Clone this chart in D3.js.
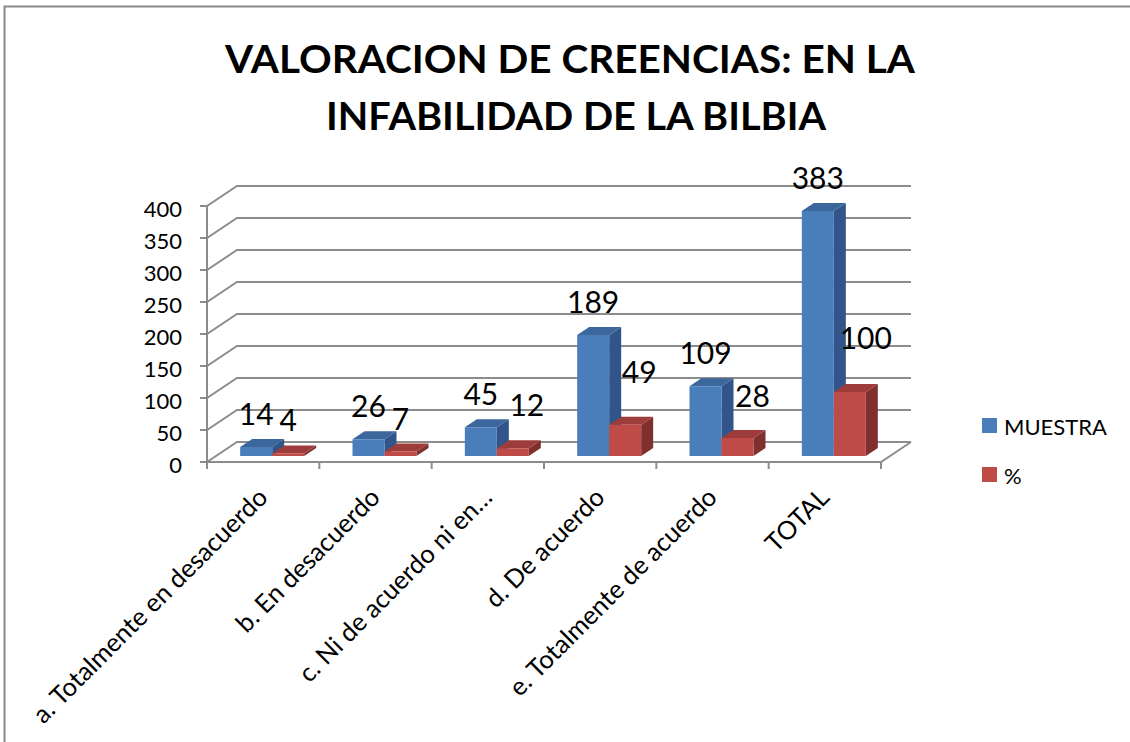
<!DOCTYPE html>
<html>
<head>
<meta charset="utf-8">
<script src="https://cdn.jsdelivr.net/npm/d3@7"></script>
<style>
  html, body { margin: 0; padding: 0; background: #fff; }
  svg { display: block; }
  text { font-family: Lato, "Open Sans", sans-serif; fill: #000; }
</style>
</head>
<body>
<svg id="chart" width="1130" height="742"></svg>
<script>
// ---- data ----
const categories = [
  "a. Totalmente en desacuerdo",
  "b. En desacuerdo",
  "c. Ni de acuerdo ni en…",
  "d. De acuerdo",
  "e. Totalmente de acuerdo",
  "TOTAL"
];
const seriesNames = ["MUESTRA", "%"];
const muestra = [14, 26, 45, 189, 109, 383];
const pct = [4, 7, 12, 49, 28, 100];
const yTicks = [0, 50, 100, 150, 200, 250, 300, 350, 400];
const titleLines = ["VALORACION DE CREENCIAS: EN LA", "INFABILIDAD DE LA BILBIA"];

// label nudges (layout only) for the "%" labels, as Excel moved them
const pctLabelNudge = [[0, 0], [0, 0], [14, -10], [14, -20], [15, -9], [16, -21]];

// ---- layout ----
const svg = d3.select("#chart");
const colors = {
  MUESTRA: { front: "#4a7ebb", top: "#3c679c", side: "#31558a" },
  "%": { front: "#be4b48", top: "#9d3c3a", side: "#7f302e" }
};
const DX = 30, DY = -20; // full depth offset
const x0 = d3.scaleBand().domain(categories).range([207, 881]).paddingInner(0).paddingOuter(0);
const x1 = d3.scaleBand().domain(seriesNames).range([0, x0.bandwidth()]).paddingInner(0).paddingOuter(0.755);
const y = d3.scaleLinear().domain([0, 400]).range([462, 206]);

// project a front-plane point at given depth
function P(xf, v, d) { return [xf + DX * d, y(v) + DY * d]; }

// border
svg.append("path").attr("d", "M4.5,742 V6.5 H1130").attr("fill", "none")
  .attr("stroke", "#888").attr("stroke-width", 2);

// title
titleLines.forEach((t, i) => {
  svg.append("text").attr("x", [570, 576][i]).attr("y", [73, 130][i])
    .attr("text-anchor", "middle").attr("font-weight", "bold")
    .attr("font-size", 39).attr("textLength", [690, 500][i])
    .attr("lengthAdjust", "spacingAndGlyphs").text(t);
});

const grid = svg.append("g").attr("stroke", "#8c8c8c").attr("stroke-width", 2).attr("fill", "none");
// back wall gridlines and side wall diagonals
yTicks.forEach(v => {
  const a = P(207, v, 0), b = P(207, v, 1), c = P(881, v, 1);
  grid.append("path").attr("d", `M${a[0]},${a[1]} L${b[0]},${b[1]} L${c[0]},${c[1]}`);
});
// front vertical axis
grid.append("line").attr("x1", 207).attr("x2", 207).attr("y1", y(400)).attr("y2", y(0));
// y ticks
yTicks.forEach(v => {
  grid.append("line").attr("x1", 200).attr("x2", 207).attr("y1", y(v)).attr("y2", y(v));
});
// floor front edge and right edge
{
  const b = P(881, 0, 1);
  grid.append("path").attr("d", `M207,${y(0)} H881 L${b[0]},${b[1]}`);
}
// category tick marks
categories.concat([null]).forEach((c) => {
  const xv = c ? x0(c) : 881;
  grid.append("line").attr("x1", xv).attr("x2", xv).attr("y1", y(0)).attr("y2", y(0) + 7);
});

// y tick labels
svg.append("g").selectAll("text").data(yTicks).join("text")
  .attr("x", 182).attr("y", d => y(d) + 2).attr("text-anchor", "end")
  .attr("dominant-baseline", "central").attr("font-size", 22).text(d => d);

// bars
const D0 = 0.3, D1 = 0.7;
const barsG = svg.append("g");
const barData = [];
categories.forEach((c, i) => {
  seriesNames.forEach((s, j) => {
    const v = (j === 0 ? muestra : pct)[i];
    const xl = x0(c) + x1(s), xr = xl + x1.bandwidth();
    barData.push({ c, s, v, xl, xr, i, j });
  });
});
barData.forEach(b => {
  const col = colors[b.s];
  const fbl = P(b.xl, 0, D0), fbr = P(b.xr, 0, D0), ftl = P(b.xl, b.v, D0), ftr = P(b.xr, b.v, D0);
  const btl = P(b.xl, b.v, D1), btr = P(b.xr, b.v, D1), bbr = P(b.xr, 0, D1);
  const pts = a => a.map(p => p.join(",")).join(" ");
  barsG.append("polygon").attr("points", pts([ftr, fbr, bbr, btr])).attr("fill", col.side);
  barsG.append("polygon").attr("points", pts([ftl, ftr, btr, btl])).attr("fill", col.top);
  barsG.append("polygon").attr("points", pts([fbl, fbr, ftr, ftl])).attr("fill", col.front);
});

// data labels
const lblG = svg.append("g");
barData.forEach(b => {
  const cx = P((b.xl + b.xr) / 2, b.v, D0)[0];
  const topY = P(b.xl, b.v, D1)[1];
  const nud = b.j === 1 ? pctLabelNudge[b.i] : [0, 0];
  lblG.append("text").attr("x", cx + nud[0]).attr("y", topY - 14 + nud[1])
    .attr("text-anchor", "middle").attr("font-size", 30).text(b.v);
});

// category labels
svg.append("g").selectAll("text").data(categories).join("text")
  .attr("transform", d => `translate(${x0(d) + x0.bandwidth() / 2 + 6},499) rotate(-45)`)
  .attr("text-anchor", "end").attr("font-size", 25.5).text(d => d);

// legend
const leg = svg.append("g");
seriesNames.forEach((s, i) => {
  leg.append("rect").attr("x", 982).attr("y", 418 + i * 49).attr("width", 15).attr("height", 15)
    .attr("fill", colors[s].front);
  leg.append("text").attr("x", 1004).attr("y", 426 + i * 49).attr("dominant-baseline", "central")
    .attr("font-size", 22).text(s);
});
</script>
</body>
</html>
